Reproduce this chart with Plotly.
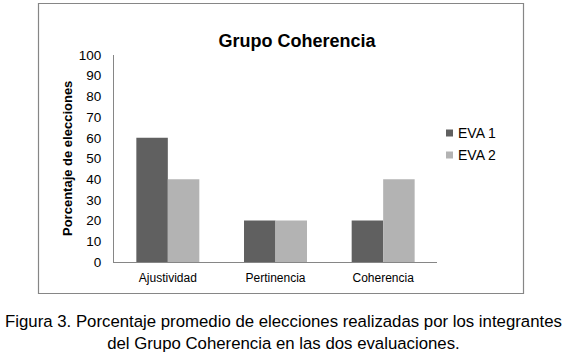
import plotly.graph_objects as go

categories = ["Ajustividad", "Pertinencia", "Coherencia"]
eva1 = [60, 20, 20]
eva2 = [40, 20, 40]
series_names = ["EVA 1", "EVA 2"]
series_colors = ["#606060", "#b3b3b3"]
y_ticks = list(range(0, 101, 10))

W, H = 566, 360
L, R, T, B = 114, 437, 55, 262  # plot area in pixels
pw, ph = R - L, B - T

def px(x):
    return (x - L) / pw

def py(y):
    return (B - y) / ph

fig = go.Figure()
for name, vals, col in zip(series_names, [eva1, eva2], series_colors):
    fig.add_trace(go.Bar(x=categories, y=vals, name=name, marker=dict(color=col, line=dict(width=0)),
                         showlegend=False))

font = "Liberation Sans, Arial, sans-serif"
fig.update_layout(
    width=W, height=H,
    margin=dict(l=L, r=W - R, t=T, b=H - B),
    paper_bgcolor="white", plot_bgcolor="white",
    barmode="group", bargap=0.415, bargroupgap=0,
    font=dict(family=font, color="#000000"),
    title=dict(text="<b>Grupo Coherencia</b>", x=px(297), xref="paper", xanchor="center",
               y=1 - 41 / H, yref="container", yanchor="middle",
               font=dict(size=18, family=font, color="#000000")),
    xaxis=dict(showline=True, linecolor="#868686", linewidth=1, ticks="", showgrid=False,
               tickfont=dict(size=12, family=font), zeroline=False, ticklabelstandoff=5),
    yaxis=dict(range=[0, 100], tickvals=y_ticks, showline=True, linecolor="#868686", linewidth=1,
               ticks="", showgrid=False, zeroline=False, tickfont=dict(size=13.5, family=font),
               ticklabelstandoff=9),
)

# y-axis title
fig.add_annotation(text="<b>Porcentaje de elecciones</b>", textangle=-90, xref="paper", yref="paper",
                   x=px(67), y=py(159), showarrow=False, font=dict(size=13, family=font),
                   xanchor="center", yanchor="middle")

# legend (manual)
for i, (name, col) in enumerate(zip(series_names, series_colors)):
    yy = 133 + i * 22
    fig.add_shape(type="rect", xref="paper", yref="paper",
                  x0=px(446), x1=px(453), y0=py(yy + 3.5), y1=py(yy - 3.5),
                  fillcolor=col, line=dict(width=0))
    fig.add_annotation(text=name, xref="paper", yref="paper", x=px(456), y=py(yy),
                       xanchor="left", yanchor="middle", showarrow=False,
                       font=dict(size=14, family=font))

# outer chart border
fig.add_shape(type="rect", xref="paper", yref="paper",
              x0=px(38.5), x1=px(523.5), y0=py(293.5), y1=py(3.5),
              line=dict(color="#868686", width=1.2), fillcolor="rgba(0,0,0,0)", layer="below")

# caption
fig.add_annotation(text="Figura 3. Porcentaje promedio de elecciones realizadas por los integrantes<br>"
                        "del Grupo Coherencia en las dos evaluaciones.",
                   xref="paper", yref="paper", x=px(283), y=py(332), xanchor="center", yanchor="middle",
                   showarrow=False, align="center", font=dict(size=16.8, family=font, color="#000000"))

fig.write_html("out.html", config={"displayModeBar": False},
               post_script="document.body.style.margin='0';")
